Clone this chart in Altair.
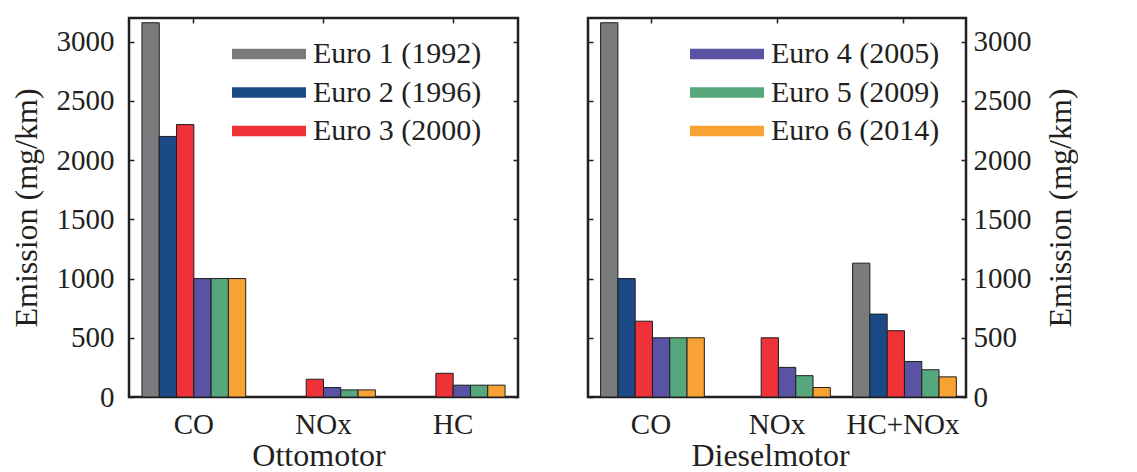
import altair as alt
import pandas as pd

series = ["Euro 1 (1992)", "Euro 2 (1996)", "Euro 3 (2000)",
          "Euro 4 (2005)", "Euro 5 (2009)", "Euro 6 (2014)"]
colors = ["#7a7b7d", "#1b4a86", "#ee3237", "#5a52a3", "#56a77c", "#f7a232"]

otto_categories = ["CO", "NOx", "HC"]
otto_co = [3160, 2200, 2300, 1000, 1000, 1000]
otto_nox = [0, 0, 150, 80, 60, 60]
otto_hc = [0, 0, 200, 100, 100, 100]

diesel_categories = ["CO", "NOx", "HC+NOx"]
diesel_co = [3160, 1000, 640, 500, 500, 500]
diesel_nox = [0, 0, 500, 250, 180, 80]
diesel_hcnox = [1130, 700, 560, 300, 230, 170]

y_ticks = [0, 500, 1000, 1500, 2000, 2500, 3000]

FONT = "Liberation Serif"
FS = 29
LFS = 30
TFS = 32
H = 379
INK = "#231f20"


def make_df(cats, cols):
    rows = []
    for c, vals in zip(cats, cols):
        for s, v in zip(series, vals):
            if v > 0:
                rows.append({"cat": c, "series": s, "value": v})
    return pd.DataFrame(rows)


otto_df = make_df(otto_categories, [otto_co, otto_nox, otto_hc])
diesel_df = make_df(diesel_categories, [diesel_co, diesel_nox, diesel_hcnox])


def panel(df, cats, W, side, title, title_dx, legend_values, legend_x, lab_pad, title_pad):
    xs = alt.Scale(domain=cats, paddingInner=0.2, paddingOuter=0.1)
    ys = alt.Scale(domain=[0, 3200], nice=False, zero=True)
    xo = alt.XOffset("series:N", sort=series,
                     scale=alt.Scale(domain=series, paddingInner=0, paddingOuter=0))
    yaxis_kw = dict(orient=side, values=y_ticks, ticks=False, domain=False, grid=False,
                    format="d", labelPadding=lab_pad, labelFlush=False, labelOverlap=False,
                    title="Emission (mg/km)", titlePadding=title_pad, titleAngle=270)
    if side == "right":
        yaxis_kw["titleBaseline"] = "top"
    bars = alt.Chart(df).mark_bar(stroke="#1e1e1e", strokeWidth=1).encode(
        x=alt.X("cat:N", scale=xs, sort=cats,
                axis=alt.Axis(orient="bottom", ticks=False, domain=False, labelPadding=13,
                              labelAngle=0, title=title, titlePadding=1, grid=False,
                              titleX=W / 2 + title_dx)),
        xOffset=xo,
        y=alt.Y("value:Q", scale=ys, axis=alt.Axis(**yaxis_kw)),
        color=alt.Color("series:N", sort=series,
                        scale=alt.Scale(domain=series, range=colors),
                        legend=alt.Legend(values=legend_values, orient="none",
                                          legendX=legend_x, legendY=21.5, title=None)),
    )
    ticks_a = alt.Chart(df).mark_bar(opacity=0).encode(
        x=alt.X("cat:N", scale=xs, sort=cats,
                axis=alt.Axis(orient="bottom", offset=-H, labels=False, domain=False,
                              ticks=True, tickSize=5, title=None, grid=False)),
        xOffset=xo,
        y=alt.Y("value:Q", scale=ys,
                axis=alt.Axis(orient="right", offset=-W, values=y_ticks, labels=False,
                              domain=False, ticks=True, tickSize=5, title=None, grid=False)),
    )
    ticks_b = alt.Chart(df).mark_bar(opacity=0).encode(
        x=alt.X("cat:N", scale=xs, sort=cats, axis=None),
        xOffset=xo,
        y=alt.Y("value:Q", scale=ys,
                axis=alt.Axis(orient="left", offset=-W, values=y_ticks, labels=False,
                              domain=False, ticks=True, tickSize=5, title=None, grid=False)),
    )
    return alt.layer(bars, ticks_a, ticks_b).resolve_axis(
        x="independent", y="independent").properties(width=W, height=H)


left = panel(otto_df, otto_categories, 389, "left", "Ottomotor", -5,
             series[:3], 103, 15, 13)
right = panel(diesel_df, diesel_categories, 378, "right", "Dieselmotor", -7,
              series[3:], 102, 7, 14)

chart = alt.hconcat(left, right, spacing=66).resolve_scale(
    color="independent").resolve_legend(color="independent").properties(
    padding={"left": 0, "top": 8, "right": 0, "bottom": 0}
).configure_view(
    stroke=INK, strokeWidth=2.5
).configure_axis(
    labelFont=FONT, labelFontSize=FS, labelColor=INK,
    titleFont=FONT, titleFontSize=TFS, titleColor=INK, titleFontWeight="normal",
    tickColor=INK, tickWidth=1.5
).configure_legend(
    labelFont=FONT, labelFontSize=LFS, labelColor=INK, labelLimit=400,
    symbolType="M-1,-0.14H1V0.14H-1Z", symbolSize=5476,
    symbolStrokeWidth=0, labelOffset=7, rowPadding=7.5, padding=0,
    clipHeight=29, symbolOpacity=1
)

chart.save("out.html", embed_options={"renderer": "svg", "actions": False})
